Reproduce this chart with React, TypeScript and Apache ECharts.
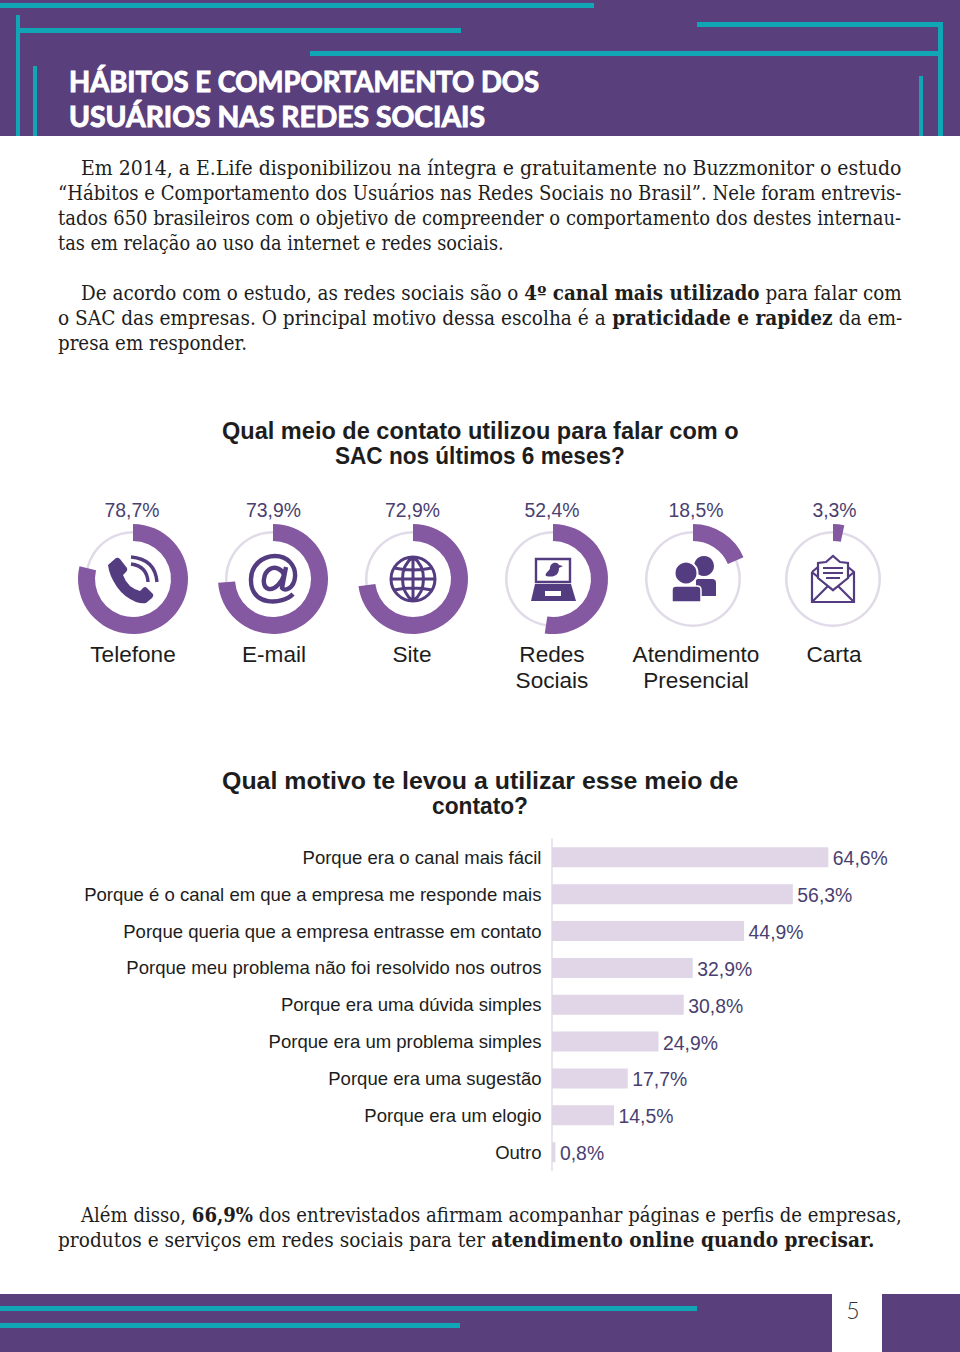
import React, { useEffect, useRef } from "react";
import * as echarts from "echarts";

const donutCategories = ["Telefone", "E-mail", "Site", "Redes\nSociais", "Atendimento\nPresencial", "Carta"];
const donutValues = [78.7, 73.9, 72.9, 52.4, 18.5, 3.3];
const donutCentersX = [133, 273, 413, 553, 693, 833];
const percentLabelX = [132, 273.5, 412.5, 552, 696, 834.5];
const categoryLabelX = [133, 274, 412, 552, 696, 834];
const DONUT_Y = 580;

const barCategories = [
  "Porque era o canal mais fácil",
  "Porque é o canal em que a empresa me responde mais",
  "Porque queria que a empresa entrasse em contato",
  "Porque meu problema não foi resolvido nos outros",
  "Porque era uma dúvida simples",
  "Porque era um problema simples",
  "Porque era uma sugestão",
  "Porque era um elogio",
  "Outro",
];
const barValues = [64.6, 56.3, 44.9, 32.9, 30.8, 24.9, 17.7, 14.5, 0.8];

const PURPLE_BG = "#59407d";
const TEAL = "#10a6b6";
const RING = "#8558a2";
const TRACK = "#e1dae9";
const BAR = "#e0d6e8";
const ICON = "#533c80";
const VALUE_TEXT = "#4a3f70";
const INK = "#1d1d1d";
const SANS = "'Liberation Sans', Arial, sans-serif";
const SERIF = "'DejaVu Serif', serif";

// [text, x0, x1, y] — "{b|...}" marks bold runs
const bodyLines: [string, number, number, number][] = [
  ["Em 2014, a E.Life disponibilizou na íntegra e gratuitamente no Buzzmonitor o estudo", 81, 902, 168],
  ["“Hábitos e Comportamento dos Usuários nas Redes Sociais no Brasil”. Nele foram entrevis-", 58, 902, 193],
  ["tados 650 brasileiros com o objetivo de compreender o comportamento dos destes internau-", 58, 902, 218],
  ["tas em relação ao uso da internet e redes sociais.", 58, 504, 243],
  ["De acordo com o estudo, as redes sociais são o {b|4º canal mais utilizado} para falar com", 81, 902, 292.5],
  ["o SAC das empresas. O principal motivo dessa escolha é a {b|praticidade e rapidez} da em-", 58, 902, 317.5],
  ["presa em responder.", 58, 247, 343],
  ["Além disso, {b|66,9%} dos entrevistados afirmam acompanhar páginas e perfis de empresas,", 81, 902, 1215],
  ["produtos e serviços em redes sociais para ter {b|atendimento online quando precisar.}", 58, 875, 1239.5],
];
const chartTitles: [string, number, number, number][] = [
  ["Qual meio de contato utilizou para falar com o", 222, 739, 431],
  ["SAC nos últimos 6 meses?", 335, 625, 456],
  ["Qual motivo te levou a utilizar esse meio de", 222, 739, 781],
  ["contato?", 432, 528, 806],
];
const headerTitles: [string, number, number, number][] = [
  ["HÁBITOS E COMPORTAMENTO DOS", 69, 539, 81],
  ["USUÁRIOS NAS REDES SOCIAIS", 69, 485, 116],
];
// x, y, w, h
const headerRects = [
  [0, 3, 594, 5], [16, 15, 4, 121], [18, 28, 443, 5], [33, 66, 4, 70],
  [697, 22, 246, 5], [938, 22, 5, 114], [310, 51, 633, 5], [919, 76, 4, 60],
];
const footerBars = [
  [0, 1294, 832, 58, PURPLE_BG], [882, 1294, 78, 58, PURPLE_BG],
  [0, 1306, 697, 5, TEAL], [0, 1323, 460, 5, TEAL],
];

const SHAPES: Record<string, string> = {
  ic_phone: "M-25,-14 L-17,-21 Q-15,-22 -13,-20 L-6,-11 Q-5,-9 -7,-7 L-10,-4 Q-8,2 -3,7 Q2,11 7,12 L10,9 Q12,7 14,9 L20,15 Q21,17 19,19 L13,24 Q9,25 3,23 Q-9,18 -16,8 Q-24,-4 -25,-14 Z",
  ic_waves: "M-2,-22 Q22,-20 24,3 M-2,-15 Q14,-13 15,3",
  ic_at: "M20,15 C10,26 -23,28 -22,0 C-22,-14 -10,-23 2,-23 C15,-23 23,-13 22,-2 C21,9 12,13 9,9 L13,-12 M11,-4 C9,-10 2,-13 -3,-10 C-10,-6 -12,8 -4,10 C2,11 9,3 11,-4",
  ic_globe: "M-22,0 A22,22 0 1,1 22,0 A22,22 0 1,1 -22,0 M0,-22 C-14,-12 -14,12 0,22 M0,-22 C14,-12 14,12 0,22 M0,-22 L0,22 M-22,0 L22,0 M-19,-11 Q0,-7 19,-11 M-19,11 Q0,7 19,11",
  ic_base: "M-18,5 L18,5 L23,22 L-22,22 Z",
  ic_bird: "M-7,-3 C-9,-6 -3,-8 -3,-11 C-3,-16 4,-18 6,-14 L10,-13 L6,-11 C6,-4 1,-1 -7,-3 Z",
  ic_body_back: "M3,0 L19,0 Q23,0 23,4 L23,17 L3,17 Z",
  ic_body_front: "M-21,23 L-21,11 Q-21,7 -17,7 L4,7 Q8,7 8,11 L8,23 Z",
  ic_env: "M-21,-7 L-21,23 L21,23 L21,-7 L15,-12 M-21,-7 L-15,-12 M-21,23 L-5,7 M21,23 L5,7 M-21,-7 L0,11 L21,-7",
  ic_letter: "M-15,-1 L-15,-16 L-7,-17 L0,-23 L7,-17 L15,-16 L15,-1 L0,11 Z",
  ic_lines: "M-10,-11 L10,-11 M-10,-6 L10,-6 M-7,-1 L7,-1",
};
Object.keys(SHAPES).forEach((k) => echarts.graphic.registerShape(k, echarts.graphic.extendPath(SHAPES[k], {})));

const ctx = document.createElement("canvas").getContext("2d") as CanvasRenderingContext2D;
function measure(text: string, size: number, family: string, baseBold: boolean) {
  let w = 0;
  const parts = text.split(/(\{b\|[^}]*\})/);
  parts.forEach((p) => {
    if (!p) return;
    const isB = p.startsWith("{b|");
    const t = isB ? p.slice(3, -1) : p;
    ctx.font = `${isB || baseBold ? "bold " : ""}${size}px ${family}`;
    w += ctx.measureText(t).width;
  });
  return w;
}
function fitted(line: [string, number, number, number], size: number, family: string, bold: boolean, fill: string) {
  const [text, x0, x1, y] = line;
  const w = measure(text, size, family, bold);
  return {
    type: "text", x: x0, y, scaleX: (x1 - x0) / w, silent: true,
    style: {
      text, fill, fontSize: size, fontFamily: family, fontWeight: bold ? "bold" : "normal",
      verticalAlign: "middle", align: "left",
      rich: { b: { fontSize: size, fontFamily: family, fontWeight: "bold", fill, verticalAlign: "middle" } },
    },
  };
}
const rect = (r: any[], fill: string) => ({ type: "rect", silent: true, shape: { x: r[0], y: r[1], width: r[2], height: r[3] }, style: { fill } });
const solid = (type: string, x: number, y: number, extra: any = {}) => ({ type, x, y, silent: true, style: { fill: ICON, ...extra } });
const line = (type: string, x: number, y: number, lineWidth: number) => ({ type, x, y, silent: true, style: { fill: "none", stroke: ICON, lineWidth } });
const pct = (v: number) => v.toFixed(1).replace(".", ",") + "%";

function icons() {
  const y = DONUT_Y - 1;
  const [a, b, c, d, e, f] = donutCentersX;
  return [
    solid("ic_phone", a, y), line("ic_waves", a, y, 3.4),
    line("ic_at", b, y, 4.4),
    line("ic_globe", c, y, 3),
    { type: "rect", silent: true, shape: { x: d - 17, y: y - 20, width: 34, height: 23 }, style: { fill: "#fff", stroke: ICON, lineWidth: 2.4 } },
    solid("ic_bird", d, y), solid("ic_base", d, y),
    { type: "rect", silent: true, shape: { x: d - 8, y: y + 12, width: 16, height: 5 }, style: { fill: "#fff" } },
    { type: "circle", silent: true, shape: { cx: e + 11, cy: y - 13, r: 10 }, style: { fill: ICON } },
    solid("ic_body_back", e, y),
    { type: "circle", silent: true, shape: { cx: e - 7, cy: y - 6, r: 11.5 }, style: { fill: ICON, stroke: "#fff", lineWidth: 2 } },
    solid("ic_body_front", e, y, { stroke: "#fff", lineWidth: 1.5 }),
    line("ic_env", f, y, 2.2),
    { type: "ic_letter", x: f, y, silent: true, style: { fill: "#fff", stroke: ICON, lineWidth: 2.2 } },
    line("ic_lines", f, y, 2),
  ];
}

export default function App() {
  const ref = useRef<HTMLDivElement>(null);
  useEffect(() => {
    document.body.style.margin = "0";
    document.body.style.background = "#fff";
    const chart = echarts.init(ref.current as HTMLDivElement, null, { renderer: "svg" });

    const pieSeries: any[] = [];
    donutValues.forEach((v, i) => {
      const center = [donutCentersX[i], DONUT_Y - 1];
      pieSeries.push({
        type: "pie", silent: true, center, radius: [45.5, 48], startAngle: 90, label: { show: false }, labelLine: { show: false },
        data: [{ value: 100, itemStyle: { color: TRACK } }],
      });
      pieSeries.push({
        type: "pie", silent: true, center, radius: [38, 55], startAngle: 90, label: { show: false }, labelLine: { show: false },
        data: [
          { value: v, itemStyle: { color: RING } },
          { value: +(100 - v).toFixed(1), itemStyle: { color: "transparent" } },
        ],
      });
    });

    const donutTexts: any[] = [];
    donutValues.forEach((v, i) => {
      donutTexts.push({ type: "text", x: percentLabelX[i], y: 509.5, silent: true, style: { text: pct(v), fill: VALUE_TEXT, fontSize: 19.4, fontFamily: SANS, align: "center", verticalAlign: "middle" } });
      donutCategories[i].split("\n").forEach((t, j) => {
        donutTexts.push({ type: "text", x: categoryLabelX[i], y: 654.5 + j * 26, silent: true, style: { text: t, fill: INK, fontSize: 22.6, fontFamily: SANS, align: "center", verticalAlign: "middle" } });
      });
    });

    chart.setOption({
      animation: false,
      backgroundColor: "#fff",
      grid: { left: 552, top: 838.9, width: 342.2, height: 331.7, containLabel: false },
      xAxis: { type: "value", min: 0, max: 80, show: false },
      yAxis: {
        type: "category", inverse: true, data: barCategories,
        axisTick: { show: false },
        axisLine: { lineStyle: { color: "#e3dcea", width: 1.5 } },
        axisLabel: { margin: 10.5, fontSize: 18.55, color: INK, fontFamily: SANS, padding: [0, 0, 2, 0] },
      },
      series: [
        {
          type: "bar", data: barValues, barWidth: 20, silent: true,
          itemStyle: { color: BAR },
          label: {
            show: true, position: "right", distance: 4.5, offset: [0, 1], color: VALUE_TEXT, fontSize: 19.4, fontFamily: SANS,
            formatter: (p: any) => pct(p.value),
          },
        },
        ...pieSeries,
      ],
      graphic: [
        { type: "rect", silent: true, shape: { x: 0, y: 0, width: 960, height: 136 }, style: { fill: PURPLE_BG } },
        ...headerRects.map((r) => rect(r, TEAL)),
        ...headerTitles.map((l) => {
          const t: any = fitted(l, 29, "Lato, sans-serif", true, "#ffffff");
          t.style.stroke = "#ffffff"; t.style.lineWidth = 1;
          return t;
        }),
        ...bodyLines.map((l) => fitted(l, 19.5, SERIF, false, INK)),
        ...chartTitles.map((l) => fitted(l, 23, SANS, true, INK)),
        ...donutTexts,
        ...icons(),
        ...footerBars.map((r) => rect(r, r[4] as string)),
        { type: "text", x: 853, y: 1310, silent: true, style: { text: "5", fill: "#333", fontSize: 23, fontFamily: "Lato, sans-serif", fontWeight: 300, align: "center", verticalAlign: "middle" } },
      ],
    });
    return () => chart.dispose();
  }, []);
  return <div ref={ref} style={{ width: 960, height: 1352 }} />;
}
